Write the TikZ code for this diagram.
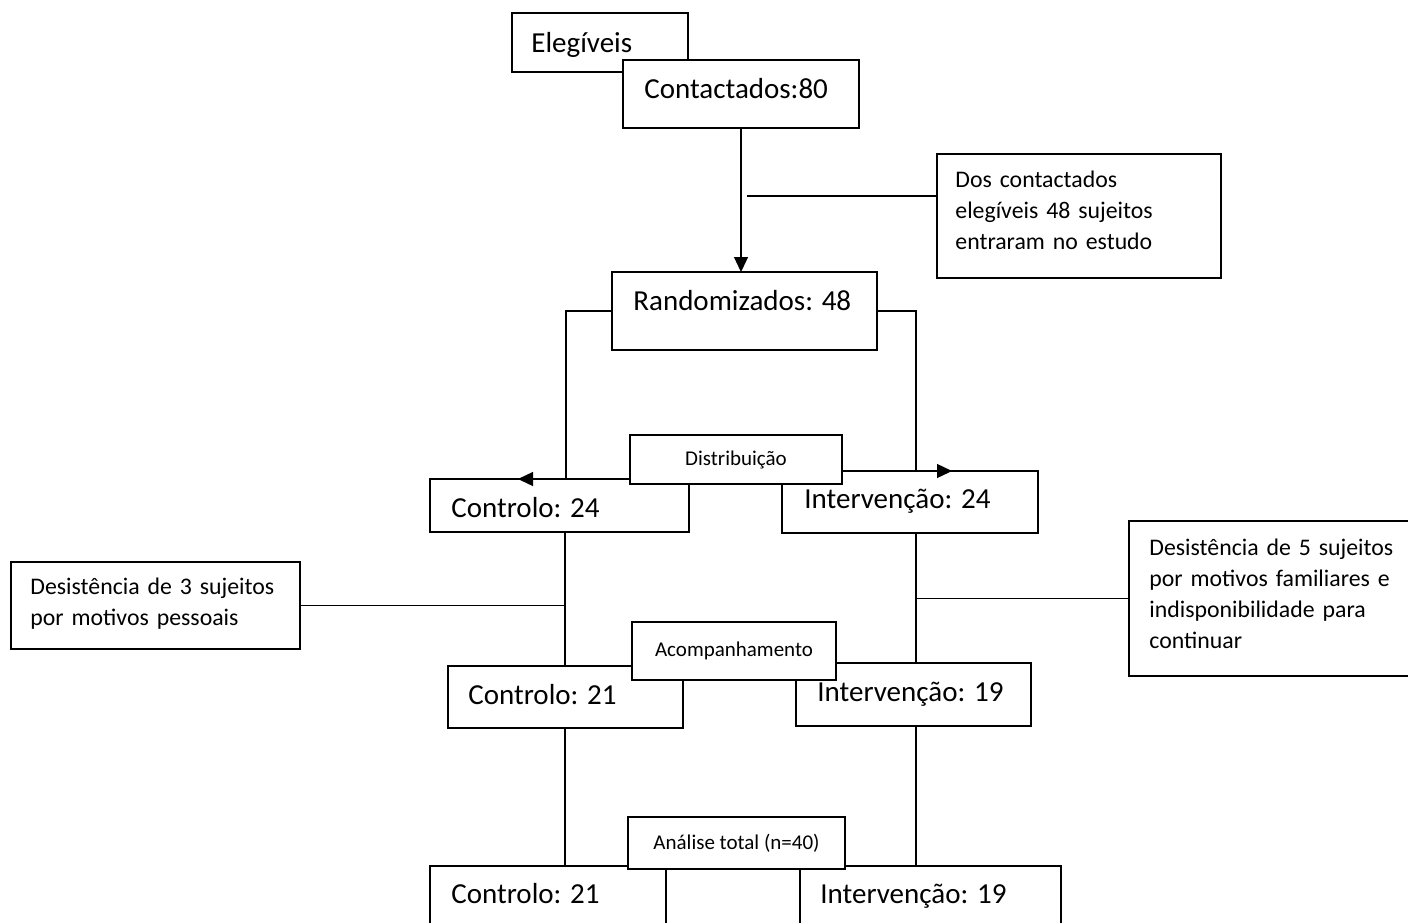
\documentclass[tikz,border=0pt]{standalone}
\usepackage{fontspec}
\setmainfont{Carlito}
\usetikzlibrary{arrows.meta,calc}

\begin{document}
\begin{tikzpicture}[
  x=0.5pt, y=-0.5pt,
  box/.style={draw,fill=white,line width=0.7pt,anchor=north west,inner sep=0pt,outer sep=0pt},
  tag/.style={box,font=\fontsize{10.5pt}{12pt}\selectfont},
  txt/.style={anchor=base west,inner sep=0pt,font=\fontsize{14.5pt}{17pt}\selectfont},
  note/.style={anchor=base west,inner sep=0pt,align=left,text width=135pt,
               font=\fontsize{11.9pt}{15.5pt}\selectfont},
  con/.style={line width=0.65pt},
  arr/.style={con,-{Triangle[length=7.5pt,width=7pt]}}
]
\useasboundingbox (0,0) rectangle (1408,922);
\clip (0,0) rectangle (1408,922);

% main boxes
\node[box,minimum width=88pt,minimum height=29.5pt]  (eleg) at (512,13)  {};
\node[box,minimum width=118pt,minimum height=34pt]   (cont) at (623,60)  {};
\node[box,minimum width=142pt,minimum height=62pt]   (dos)  at (937,154) {};
\node[box,minimum width=132.5pt,minimum height=39pt] (rand) at (612,272) {};
\node[box,minimum width=129.5pt,minimum height=26.5pt] (ctl1) at (430,479) {};
\node[box,minimum width=128pt,minimum height=31pt]   (int1) at (782,471) {};
\node[box,minimum width=144.5pt,minimum height=43.5pt] (des3) at (11,562) {};
\node[box,minimum width=150pt,minimum height=77.5pt] (des5) at (1129,521) {};
\node[box,minimum width=117.5pt,minimum height=31pt] (ctl2) at (448,666) {};
\node[box,minimum width=117.5pt,minimum height=31.5pt] (int2) at (796,663) {};
\node[box,minimum width=118pt,minimum height=40pt]   (ctl3) at (430,866) {};
\node[box,minimum width=130.5pt,minimum height=40pt] (int3) at (800,866) {};

% connectors
\coordinate (lane-l) at (565,0);
\coordinate (lane-r) at (916,0);
\coordinate (l-turn) at (566,479);
\coordinate (l-tip)  at (518,479);
\coordinate (r-turn) at (916,471);
\coordinate (r-tip)  at (952,471);
\coordinate (dos-in) at (747,196);
\draw[arr] (cont.south) -- (cont.south |- rand.north);
\draw[con] (dos-in) -- (dos-in -| dos.west);
\draw[arr] (rand.west) -| (l-turn) -- (l-tip);
\draw[arr] (rand.east) -| (r-turn) -- (r-tip);
\draw[con] (ctl1.south -| lane-l) -- (ctl2.north -| lane-l);
\draw[con] (ctl2.south -| lane-l) -- (ctl3.north -| lane-l);
\draw[con] (int1.south -| lane-r) -- (int2.north -| lane-r);
\draw[con] (int2.south -| lane-r) -- (int3.north -| lane-r);
\draw[con] (des3.east) -- (des3.east -| lane-l);
\draw[con] (des5.west) -- (des5.west -| lane-r);

% stage tags
\node[tag,minimum width=106pt,minimum height=24.5pt] (distr) at (630,435) {Distribuição};
\node[tag,minimum width=102pt,minimum height=29pt]   (acomp) at (632,622) {Acompanhamento};
\node[tag,minimum width=108.5pt,minimum height=26pt] (anal)  at (628,817) {Análise total (n=40)};

% texts
\node[txt]  (eleg-t) at (531,52)  {Elegíveis};
\node[txt]  (cont-t) at (644,98)  {Contactados:80};
\node[note] (dos-t)  at (955,187) {Dos contactados\\elegíveis 48 sujeitos\\entraram no estudo};
\node[txt]  (rand-t) at (633,310) {Randomizados: 48};
\node[txt]  (ctl1-t) at (451,517) {Controlo: 24};
\node[txt]  (int1-t) at (804,508) {Intervenção: 24};
\node[note] (des3-t) at (30,594)  {Desistência de 3 sujeitos\\por motivos pessoais};
\node[note] (des5-t) at (1149,555) {Desistência de 5 sujeitos\\por motivos familiares e\\indisponibilidade para\\continuar};
\node[txt]  (ctl2-t) at (468,704) {Controlo: 21};
\node[txt]  (int2-t) at (817,701) {Intervenção: 19};
\node[txt]  (ctl3-t) at (451,903) {Controlo: 21};
\node[txt]  (int3-t) at (820,903) {Intervenção: 19};
\end{tikzpicture}
\end{document}
